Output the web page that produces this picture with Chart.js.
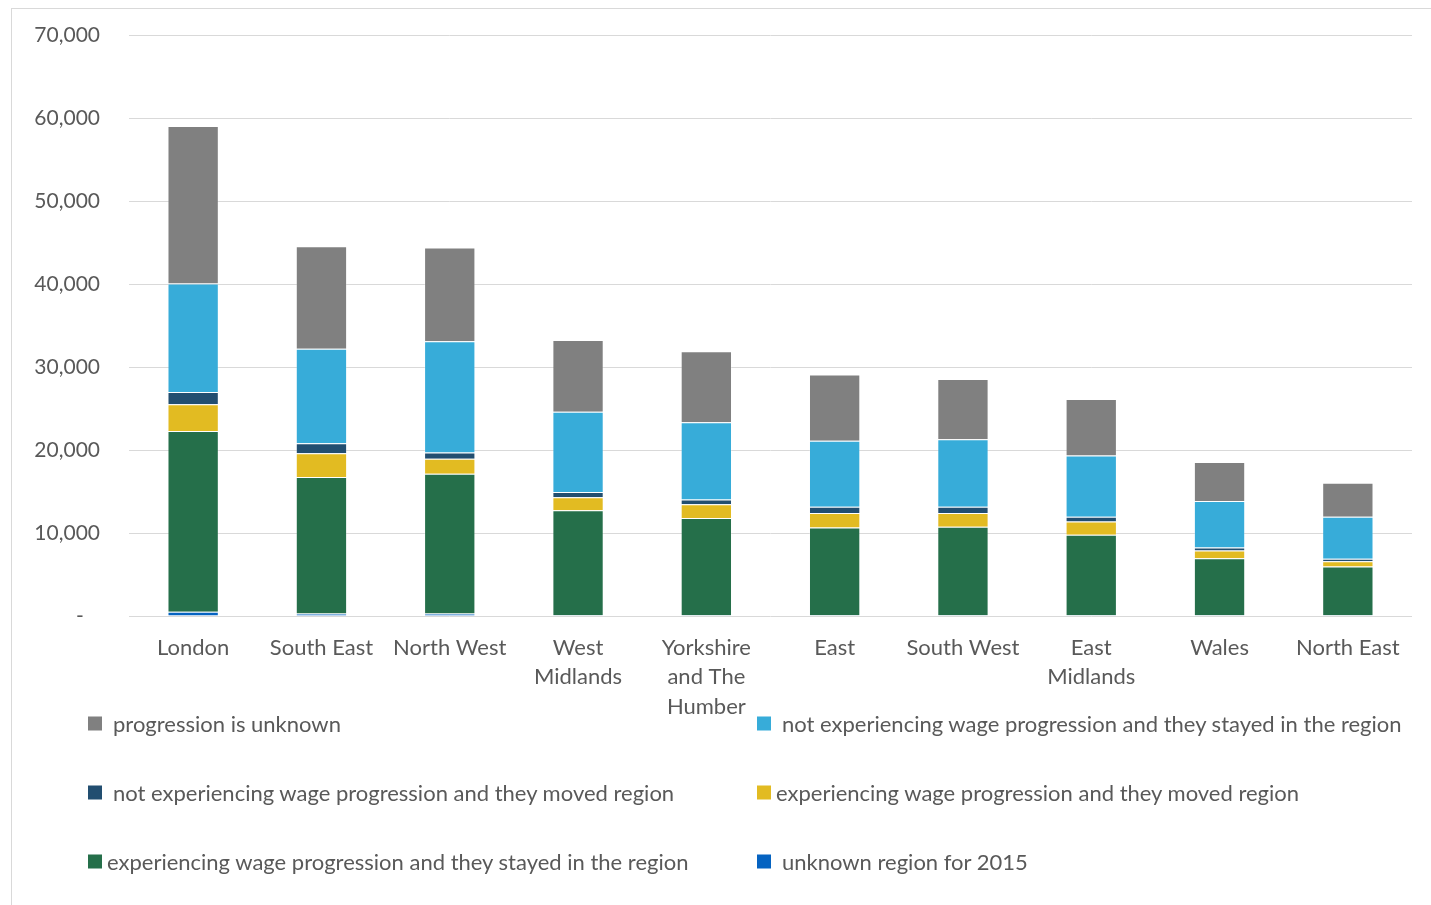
<!DOCTYPE html>
<html>
<head>
<meta charset="utf-8">
<script src="https://cdn.jsdelivr.net/npm/chart.js@4/dist/chart.umd.min.js"></script>
<style>
  html, body { margin: 0; padding: 0; background: #fff; }
  #wrap { position: relative; width: 1431px; height: 905px; overflow: hidden; }
  #frame { position: absolute; left: 11px; top: 8px; width: 1500px; height: 1000px;
           border-left: 1px solid #d9d9d9; border-top: 1px solid #d9d9d9; }
  #chart { position: absolute; left: 0; top: 0; }
  .item { position: absolute; display: flex; align-items: center; white-space: nowrap;
          font-family: Lato, sans-serif; font-size: 22px; color: #595959;
          transform: translateY(-50%); }
  .swatch { width: 14px; height: 14px; }
</style>
</head>
<body>
<div id="wrap">
  <div id="frame"></div>
  <canvas id="chart" width="1431" height="905"></canvas>
  <div id="legend"></div>
</div>
<script>
const regions = [
    ['London'], ['South East'], ['North West'], ['West', 'Midlands'],
    ['Yorkshire', 'and The', 'Humber'], ['East'], ['South West'],
    ['East', 'Midlands'], ['Wales'], ['North East']
];

// stacked bottom to top
const unknownRegion = [500, 300, 300, 100, 100, 100, 100, 100, 100, 100];
const progStayed    = [21800, 16450, 16850, 12650, 11700, 10550, 10650, 9700, 6850, 5850];
const progMoved     = [3200, 2850, 1800, 1550, 1650, 1750, 1650, 1600, 950, 650];
const noProgMoved   = [1500, 1200, 750, 650, 600, 750, 750, 550, 350, 300];
const noProgStayed  = [13050, 11400, 13400, 9650, 9300, 7950, 8150, 7400, 5600, 5050];
const progUnknown   = [19000, 12350, 11300, 8650, 8550, 8000, 7250, 6800, 4700, 4100];

const yTicks = [0, 10000, 20000, 30000, 40000, 50000, 60000, 70000];

const series = [
    {label: 'unknown region for 2015', data: unknownRegion, color: '#0563c1'},
    {label: 'experiencing wage progression and they stayed in the region', data: progStayed, color: '#256f4a'},
    {label: 'experiencing wage progression and they moved region', data: progMoved, color: '#e2bb22'},
    {label: 'not experiencing wage progression and they moved region', data: noProgMoved, color: '#224e70'},
    {label: 'not experiencing wage progression and they stayed in the region', data: noProgStayed, color: '#37acd9'},
    {label: 'progression is unknown', data: progUnknown, color: '#808080'}
];

const textColor = '#595959';
const fontFamily = 'Lato, sans-serif';

const datasets = series.map(s => ({
    label: s.label,
    data: s.data,
    backgroundColor: s.color,
    borderColor: 'rgba(255,255,255,0.22)',
    borderWidth: 1,
    barPercentage: 0.4,
    categoryPercentage: 1.0
}));

new Chart(document.getElementById('chart'), {
    type: 'bar',
    data: {labels: regions, datasets: datasets},
    options: {
        responsive: false,
        animation: false,
        layout: {padding: {left: 0, top: 35, right: 19, bottom: 0}},
        plugins: {legend: {display: false}, tooltip: {enabled: false}},
        scales: {
            x: {
                stacked: true,
                grid: {display: false},
                border: {display: false},
                ticks: {color: textColor, font: {family: fontFamily, size: 22, lineHeight: 1.34}, padding: 9, maxRotation: 0},
                afterFit: scale => { scale.height = 289; }
            },
            y: {
                stacked: true,
                min: 0,
                max: 70000,
                afterBuildTicks: scale => { scale.ticks = yTicks.map(v => ({value: v})); },
                grid: {color: '#d9d9d9', lineWidth: 1, drawTicks: false},
                border: {display: false},
                ticks: {
                    color: textColor,
                    font: {family: fontFamily, size: 21},
                    padding: 29,
                    callback: v => v === 0 ? '-   ' : v.toLocaleString('en-US')
                },
                afterFit: scale => {
                    scale.width = 129;
                    // tick padding would otherwise push the plot top down
                    scale.paddingTop = 0;
                    scale.paddingBottom = 0;
                }
            }
        }
    }
});

// legend in two columns, same order as the stack read top-down
const legendRows = [
    [{s: series[5], gap: 11}, {s: series[4], gap: 11}],
    [{s: series[3], gap: 11}, {s: series[2], gap: 5}],
    [{s: series[1], gap: 5}, {s: series[0], gap: 11}]
];
const colX = [88, 757];
const rowY = [723, 792, 861];
const legend = document.getElementById('legend');
legendRows.forEach((row, r) => {
    row.forEach((entry, c) => {
        const item = document.createElement('div');
        item.className = 'item';
        item.style.left = colX[c] + 'px';
        item.style.top = rowY[r] + 'px';
        item.innerHTML = '<span class="swatch" style="background:' + entry.s.color +
            ';margin-right:' + entry.gap + 'px"></span>' + entry.s.label;
        legend.appendChild(item);
    });
});
</script>
</body>
</html>
